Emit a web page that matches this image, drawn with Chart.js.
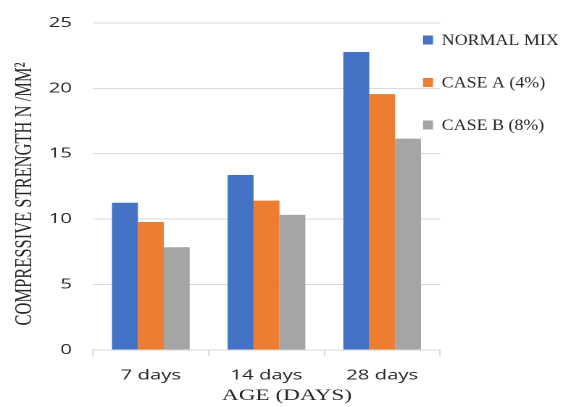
<!DOCTYPE html>
<html>
<head>
<meta charset="utf-8">
<script src="https://cdn.jsdelivr.net/npm/chart.js@4.4.1/dist/chart.umd.min.js"></script>
<style>
  html, body { margin: 0; padding: 0; background: #ffffff; }
</style>
</head>
<body>
<canvas id="c" width="394" height="407" style="display:block;width:571px;height:407px;"></canvas>
<script>
// ---- data ----
const categories = ['7 days', '14 days', '28 days'];
const seriesNames = ['NORMAL MIX', 'CASE A (4%)', 'CASE B (8%)'];
const normalMix = [11.25, 13.37, 22.78];
const caseA = [9.78, 11.42, 19.56];
const caseB = [7.85, 10.33, 16.15];
const yTicks = [0, 5, 10, 15, 20, 25];
const yTitle = 'COMPRESSIVE STRENGTH N /MM\u00B2';
const xTitle = 'AGE (DAYS)';

// ---- styles ----
const colors = ['#4472C4', '#ED7D31', '#A5A5A5'];
const gridColor = '#d9d9d9';
const textColor = '#262626';
const SX = 571 / 394; // the picture is stretched horizontally

const overlay = {
  id: 'overlay',
  afterDraw(chart) {
    const ctx = chart.ctx;
    ctx.save();
    ctx.fillStyle = textColor;

    // y-axis title (rotated)
    ctx.save();
    ctx.font = '16.5px "Liberation Serif"';
    ctx.translate(17.3, 194);
    ctx.rotate(-Math.PI / 2);
    ctx.textAlign = 'center';
    ctx.textBaseline = 'middle';
    ctx.fillText(yTitle, 0, 0);
    ctx.restore();

    // x-axis title
    ctx.save();
    ctx.font = '16px "Liberation Serif"';
    const wx = ctx.measureText(xTitle).width;
    const sxx = (130 / SX) / wx;
    ctx.translate(287 / SX, 400);
    ctx.scale(sxx, 1);
    ctx.textAlign = 'center';
    ctx.textBaseline = 'alphabetic';
    ctx.fillText(xTitle, 0, 0);
    ctx.restore();

    // legend
    ctx.save();
    ctx.font = '16px "Liberation Serif"';
    const w0 = ctx.measureText(chart.data.datasets[0].label).width;
    const sl = (117 / SX) / w0;
    chart.data.datasets.forEach((ds, i) => {
      const cy = 40 + i * 42.5;
      ctx.fillStyle = ds.backgroundColor;
      ctx.fillRect(423 / SX, cy - 4.5, 10 / SX, 9);
      ctx.save();
      ctx.fillStyle = textColor;
      ctx.translate(441.7 / SX, cy);
      ctx.scale(sl, 1);
      ctx.textAlign = 'left';
      ctx.textBaseline = 'middle';
      ctx.fillText(ds.label, 0, 1);
      ctx.restore();
    });
    ctx.restore();

    ctx.restore();
  }
};

const seriesValues = [normalMix, caseA, caseB];

new Chart(document.getElementById('c'), {
  type: 'bar',
  data: {
    labels: categories,
    datasets: seriesNames.map((n, i) => ({
      label: n,
      data: seriesValues[i],
      backgroundColor: colors[i],
      borderWidth: 0,
      categoryPercentage: 0.672,
      barPercentage: 1.0
    }))
  },
  options: {
    responsive: false,
    animation: false,
    devicePixelRatio: 2,
    layout: { padding: { left: 0, right: 394 - 440 / SX, top: 20, bottom: 0 } },
    plugins: {
      legend: { display: false },
      tooltip: { enabled: false },
      title: { display: false }
    },
    scales: {
      x: {
        grid: {
          display: true,
          drawOnChartArea: false,
          drawTicks: true,
          tickLength: 6,
          color: gridColor,
          offset: true
        },
        border: { display: true, color: gridColor, width: 1 },
        ticks: {
          color: textColor,
          font: { family: '"Open Sans"', size: 14 },
          padding: 11,
          maxRotation: 0
        },
        afterFit(scale) { scale.height = 57; }
      },
      y: {
        min: yTicks[0],
        max: yTicks[yTicks.length - 1],
        afterBuildTicks(scale) { scale.ticks = yTicks.map(v => ({ value: v })); },
        grid: { color: gridColor, drawTicks: false, lineWidth: 1 },
        border: { display: false },
        ticks: {
          color: textColor,
          font: { family: '"Open Sans"', size: 14 },
          padding: 93 / SX - 72 / SX
        },
        afterFit(scale) { scale.width = 93 / SX; }
      }
    }
  },
  plugins: [overlay]
});
</script>
</body>
</html>
